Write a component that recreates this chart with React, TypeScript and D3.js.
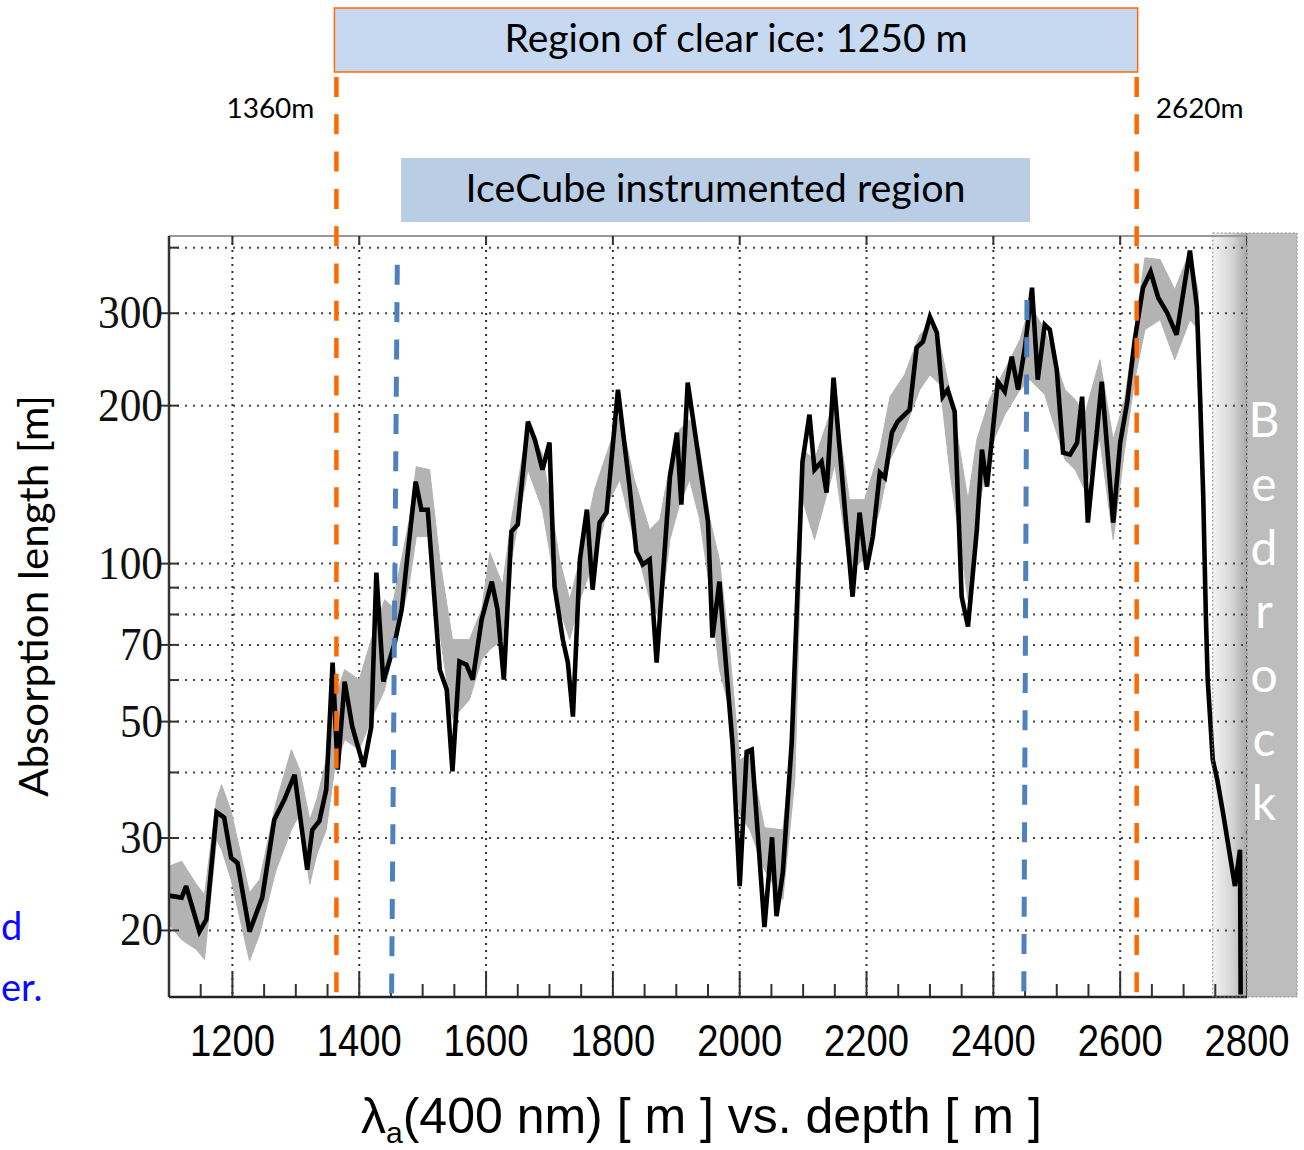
import React from "react";
import * as d3 from "d3";

// ---- data ----
const lineDepth = [
  1100, 1120, 1127, 1148, 1159, 1175, 1187, 1198, 1208, 1227,
  1238, 1247, 1266, 1282, 1298, 1318, 1326, 1337, 1348, 1358,
  1366, 1377, 1389, 1407, 1419, 1427, 1438, 1456, 1467, 1478,
  1489, 1498, 1508, 1527, 1538, 1547, 1558, 1569, 1579, 1593,
  1609, 1618, 1628, 1640, 1650, 1666, 1677, 1689, 1700, 1708,
  1721, 1729, 1737, 1748, 1759, 1768, 1779, 1790, 1808, 1826,
  1837, 1847, 1858, 1869, 1890, 1901, 1908, 1918, 1950, 1957,
  1968, 1976, 1989, 2000, 2011, 2019, 2039, 2051, 2058, 2068,
  2082, 2099, 2110, 2118, 2129, 2137, 2148, 2169, 2178, 2189,
  2200, 2210, 2221, 2229, 2240, 2249, 2268, 2279, 2289, 2300,
  2311, 2320, 2328, 2339, 2350, 2360, 2374, 2382, 2390, 2402,
  2407, 2418, 2429, 2439, 2450, 2461, 2470, 2481, 2489, 2500,
  2510, 2521, 2532, 2540, 2549, 2571, 2589, 2600, 2611, 2623,
  2636, 2648, 2660, 2674, 2689, 2710, 2721, 2726, 2731, 2735,
  2738, 2746, 2753, 2762, 2781, 2789, 2790,
];
const lineValue = [
  23.3, 23.1, 24.3, 19.9, 21.0, 33.6, 32.8, 27.5, 26.9, 19.9,
  21.6, 23.1, 32.5, 35.5, 39.6, 26.1, 31.1, 32.3, 37.1, 64.8,
  40.5, 59.6, 48.9, 41.0, 48.9, 96.1, 59.6, 70.7, 81.8, 108.7,
  143.3, 126.7, 126.7, 62.8, 57.5, 40.2, 65.1, 64.2, 60.1, 78.2,
  92.4, 81.8, 60.1, 115.1, 118.7, 186.4, 172.3, 151.0, 170.0, 90.4,
  71.7, 64.8, 51.1, 101.8, 126.7, 89.2, 119.7, 125.1, 214.5, 141.4,
  105.4, 99.6, 101.8, 64.8, 146.4, 177.7, 129.5, 221.2, 120.2, 72.3,
  92.4, 69.5, 44.8, 24.3, 43.8, 44.2, 20.3, 30.1, 21.3, 25.8,
  45.6, 156.4, 192.2, 151.0, 156.4, 136.5, 226.2, 114.6, 86.5, 125.1,
  97.4, 112.6, 149.0, 145.8, 177.7, 186.4, 196.5, 257.9, 264.8, 295.4,
  275.4, 208.0, 214.5, 194.8, 86.5, 75.9, 116.1, 164.9, 140.2, 193.9,
  222.2, 212.7, 247.9, 214.5, 259.1, 335.6, 224.1, 285.2, 279.1, 234.2,
  162.7, 161.3, 170.0, 208.0, 119.7, 222.2, 119.7, 170.0, 202.6, 267.1,
  335.6, 359.9, 321.1, 300.7, 273.0, 395.0, 308.7, 208.0, 134.2, 80.7,
  60.1, 42.3, 38.8, 33.6, 24.3, 28.5, 15.1,
];

const bandDepth = [
  1100, 1120, 1143, 1156, 1175, 1183, 1198, 1227, 1243, 1269,
  1293, 1306, 1322, 1333, 1348, 1361, 1377, 1400, 1419, 1440,
  1452, 1479, 1490, 1511, 1527, 1547, 1574, 1593, 1606, 1626,
  1640, 1666, 1689, 1716, 1732, 1748, 1771, 1795, 1811, 1834,
  1858, 1874, 1890, 1905, 1921, 1937, 1953, 1968, 1984, 2000,
  2016, 2039, 2068, 2087, 2099, 2118, 2150, 2173, 2197, 2221,
  2237, 2260, 2284, 2300, 2316, 2331, 2347, 2360, 2374, 2394,
  2418, 2442, 2458, 2481, 2513, 2529, 2544, 2568, 2589, 2607,
  2623, 2639, 2663, 2686, 2710, 2723,
];
const bandLow = [
  20.5, 19.2, 18.4, 17.6, 29.8, 28.5, 25.0, 17.5, 19.7, 26.1,
  31.1, 33.3, 24.5, 27.9, 31.1, 40.5, 46.2, 44.2, 50.5, 57.5,
  66.5, 92.0, 112.6, 112.6, 73.9, 50.5, 55.1, 65.6, 68.6, 71.7,
  101.8, 151, 126.7, 81.8, 71.7, 85.4, 101.8, 132.4, 144.5, 111.1,
  85.4, 78.2, 111.1, 129.5, 144.5, 121.3, 89.2, 62.8, 52.7, 33.3,
  31.1, 26.1, 22.9, 38.8, 132.4, 111.1, 154.3, 97.4, 101.8, 126.7,
  157.8, 180, 214.5, 229, 219.3, 151, 111.1, 85.4, 121.3, 164.9,
  192.2, 214.5, 224, 210, 157.8, 151, 138.3, 172.3, 111.1, 164.9,
  224, 279, 291.6, 244.6, 291.6, 279,
];
const bandHigh = [
  26.5, 27.1, 24.5, 23.4, 35.5, 37.9, 33.7, 23.6, 25.0, 35.1,
  44.2, 40.5, 32.5, 35.5, 42.3, 55.1, 62.8, 60.1, 71.7, 85.4,
  82.8, 121.3, 153, 151, 101.8, 71.7, 71.7, 81.8, 105, 91.2,
  121.3, 184, 161.3, 101.8, 85.4, 101.8, 138.3, 168.5, 192.2, 144.5,
  116, 121.3, 154.3, 180, 188, 164.9, 121.3, 101.8, 68.6, 42.3,
  43.3, 31.4, 31.1, 50.5, 164.9, 157.8, 205.5, 132.4, 132.4, 164.9,
  208, 229, 273, 285.2, 261.4, 214.5, 164.9, 132.4, 172.3, 205.5,
  234.2, 267.1, 310.8, 279, 214.5, 205.5, 192.2, 244.6, 172.3, 205.5,
  279, 382.7, 379.6, 332.8, 392.9, 330,
];

const xTickLabels = [1200, 1400, 1600, 1800, 2000, 2200, 2400, 2600, 2800];
const yTickLabels = [20, 30, 50, 70, 100, 200, 300];
const yMinorTicks = [40, 60, 80, 90, 400];
const yGridValues = [20, 30, 40, 50, 60, 70, 80, 90, 100, 200, 300, 400];

const clearIceDepths = [1364, 2626];
const clearIceLabels = ["1360m", "2620m"];
const clearIceTitle = "Region of clear ice: 1250 m";
const instrumentedTitle = "IceCube instrumented region";
const instrumentedBoxDepths = [1466, 2458];
const instrumentedTopDepth = [1460, 2453];
const instrumentedBottomDepth = [1451, 2448];
const instrumentedTopValue = [371, 318];
const bedrockDepths = [2746, 2800, 2879];
const bedrockWord = "Bedrock";
const slideFragments = ["d", "er."];

export default function App() {
  const W = 1304;
  const H = 1150;
  const x = d3.scaleLinear().domain([1100, 2800]).range([169, 1247]);
  const y = d3.scaleLog().domain([15, 421]).range([996, 236]);
  const top = y.range()[1];
  const bottom = y.range()[0];
  const left = x.range()[0];
  const right = x.range()[1];

  const linePts = lineDepth.map((d, i) => [d, lineValue[i]] as [number, number]);
  const bandPts = bandDepth.map((d, i) => ({ d, lo: bandLow[i], hi: bandHigh[i] }));
  const linePath = d3
    .line<[number, number]>()
    .x((p) => x(p[0]))
    .y((p) => y(p[1]))(linePts) as string;
  const bandPath = d3
    .area<{ d: number; lo: number; hi: number }>()
    .x((p) => x(p.d))
    .y0((p) => y(p.lo))
    .y1((p) => y(p.hi))(bandPts) as string;

  const minorX = d3.range(1150, 2801, 50);
  const orange = "#ff6a00";
  const blue = "#4f81bd";

  const boxL = x(clearIceDepths[0]) - 2;
  const boxR = x(clearIceDepths[1]) + 1;
  const box2L = x(instrumentedBoxDepths[0]);
  const box2R = x(instrumentedBoxDepths[1]);

  const bx0 = x(bedrockDepths[0]);
  const bx1 = x(bedrockDepths[1]);
  const bx2 = x(bedrockDepths[2]);

  return (
    <svg
      width={W}
      height={H}
      style={{ position: "absolute", left: 0, top: 0, background: "#fff" }}
    >
      <defs>
        <linearGradient id="bedgrad" x1="0" x2="1" y1="0" y2="0">
          <stop offset="0" stopColor="#f4f4f4" />
          <stop offset="0.6" stopColor="#d2d2d2" />
          <stop offset="1" stopColor="#a8a8a8" />
        </linearGradient>
      </defs>

      {/* slide text fragments on the left */}
      <g fontFamily="Lato, 'Open Sans', sans-serif" fontSize={38} fill="#0a0aff" textAnchor="start">
        <text x={1} y={940}>{slideFragments[0]}</text>
        <text x={1} y={1001}>{slideFragments[1]}</text>
      </g>

      {/* top boxes */}
      <rect x={boxL} y={8} width={boxR - boxL} height={64} fill="#c6d9f1" stroke={orange} strokeWidth={1.5} />
      <text
        x={(boxL + boxR) / 2}
        y={52}
        textAnchor="middle"
        fontFamily="Lato, sans-serif"
        fontSize={38}
        textLength={463}
        lengthAdjust="spacingAndGlyphs"
      >
        {clearIceTitle}
      </text>
      <rect x={box2L} y={158} width={box2R - box2L} height={64} fill="#b9cde5" />
      <text
        x={(box2L + box2R) / 2}
        y={202}
        textAnchor="middle"
        fontFamily="Lato, sans-serif"
        fontSize={38}
        textLength={500}
        lengthAdjust="spacingAndGlyphs"
      >
        {instrumentedTitle}
      </text>
      <text x={x(clearIceDepths[0]) - 22} y={118} textAnchor="end" fontFamily="Lato, sans-serif" fontSize={27} textLength={88} lengthAdjust="spacingAndGlyphs">
        {clearIceLabels[0]}
      </text>
      <text x={x(clearIceDepths[1]) + 19} y={118} textAnchor="start" fontFamily="Lato, sans-serif" fontSize={27} textLength={88} lengthAdjust="spacingAndGlyphs">
        {clearIceLabels[1]}
      </text>

      {/* bedrock gradient (under the data) */}
      <rect x={bx0} y={top - 3} width={bx1 - bx0} height={bottom - top + 4} fill="url(#bedgrad)" />

      {/* grid */}
      <g stroke="#444" strokeWidth={2} strokeDasharray="2 6" fill="none">
        {yGridValues.map((v) => (
          <line key={"hg" + v} x1={left} x2={right} y1={y(v)} y2={y(v)} />
        ))}
      </g>
      <g stroke="#333" strokeWidth={2} strokeDasharray="2 5" fill="none">
        {xTickLabels.map((d) => (
          <line key={"vg" + d} x1={x(d)} x2={x(d)} y1={top} y2={bottom} />
        ))}
      </g>

      {/* uncertainty band and absorption length */}
      <path d={bandPath} fill="#b3b3b3" stroke="#b3b3b3" strokeWidth={1} />
      <path d={linePath} fill="none" stroke="#000" strokeWidth={4.6} strokeLinejoin="miter" strokeMiterlimit={3} />

      {/* frame and ticks */}
      <line x1={left} x2={right} y1={top} y2={top} stroke="#999" strokeWidth={2} />
      <line x1={left} x2={left} y1={top} y2={bottom + 1} stroke="#333" strokeWidth={2.5} />
      <line x1={left} x2={right} y1={bottom + 1} y2={bottom + 1} stroke="#222" strokeWidth={2.5} />
      <g stroke="#333" strokeWidth={2}>
        {minorX.map((d) => {
          const major = xTickLabels.includes(d);
          return <line key={"xt" + d} x1={x(d)} x2={x(d)} y1={bottom} y2={bottom - (major ? 24 : 12)} />;
        })}
        {xTickLabels.map((d) => (
          <line key={"xtt" + d} x1={x(d)} x2={x(d)} y1={top} y2={top + 8} />
        ))}
        {yTickLabels.map((v) => (
          <line key={"yt" + v} x1={left - 8} x2={left + 10} y1={y(v)} y2={y(v)} />
        ))}
        {yMinorTicks.map((v) => (
          <line key={"ym" + v} x1={left} x2={left + 10} y1={y(v)} y2={y(v)} />
        ))}
      </g>

      {/* dashed region markers */}
      <g stroke={orange} strokeWidth={4.5} strokeDasharray="20 17.3" fill="none">
        {clearIceDepths.map((d) => (
          <line key={"or" + d} x1={x(d)} x2={x(d)} y1={77} y2={bottom} />
        ))}
      </g>
      <g stroke={blue} strokeWidth={5} strokeDasharray="20 17.3" fill="none">
        {instrumentedTopDepth.map((d, i) => (
          <line
            key={"bl" + d}
            x1={x(d)}
            x2={x(instrumentedBottomDepth[i])}
            y1={y(instrumentedTopValue[i])}
            y2={bottom}
          />
        ))}
      </g>

      {/* bedrock */}
      <rect x={bx1} y={top - 3} width={bx2 - bx1} height={bottom - top + 4} fill="#bdbdbd" />
      <rect
        x={bx0}
        y={top - 3}
        width={bx2 - bx0}
        height={bottom - top + 4}
        fill="none"
        stroke="#888"
        strokeWidth={1}
        strokeDasharray="2 2"
      />
      <line x1={bx1} x2={bx1} y1={top - 3} y2={bottom + 1} stroke="#777" strokeWidth={1} strokeDasharray="2 2" />
      <g fontFamily="Lato, sans-serif" fontSize={48} fill="#fff" textAnchor="middle">
        {bedrockWord.split("").map((c, i) => (
          <text key={"br" + i} x={(bx1 + bx2) / 2 - 8} y={437 + i * 63.8}>
            {c}
          </text>
        ))}
      </g>

      {/* tick labels */}
      <g fontFamily="'Liberation Serif', 'Times New Roman', serif" fontSize={46} fill="#111" textAnchor="end">
        {yTickLabels.map((v) => (
          <text key={"yl" + v} x={left - 6} y={y(v) + 15} textLength={v >= 100 ? 65 : 43} lengthAdjust="spacingAndGlyphs">
            {v}
          </text>
        ))}
      </g>
      <g fontFamily="'Liberation Sans', Arial, sans-serif" fontSize={44} fill="#000" textAnchor="middle">
        {xTickLabels.map((d) => (
          <text key={"xl" + d} x={x(d)} y={1056} textLength={85} lengthAdjust="spacingAndGlyphs">
            {d}
          </text>
        ))}
      </g>

      {/* axis titles */}
      <text
        transform={`translate(48, ${(y(15) + y(421)) / 2 - 20}) rotate(-90)`}
        textAnchor="middle"
        fontFamily="Lato, sans-serif"
        fontSize={41}
        textLength={402}
        lengthAdjust="spacingAndGlyphs"
      >
        Absorption length [m]
      </text>
      <text x={361} y={1133} fontFamily="'Liberation Sans', Arial, sans-serif" fontSize={50} fill="#000">
        λ
        <tspan fontSize={30} dy={10}>a</tspan>
        <tspan dy={-10}>(400 nm) [ m ] vs. depth [ m ]</tspan>
      </text>
    </svg>
  );
}
